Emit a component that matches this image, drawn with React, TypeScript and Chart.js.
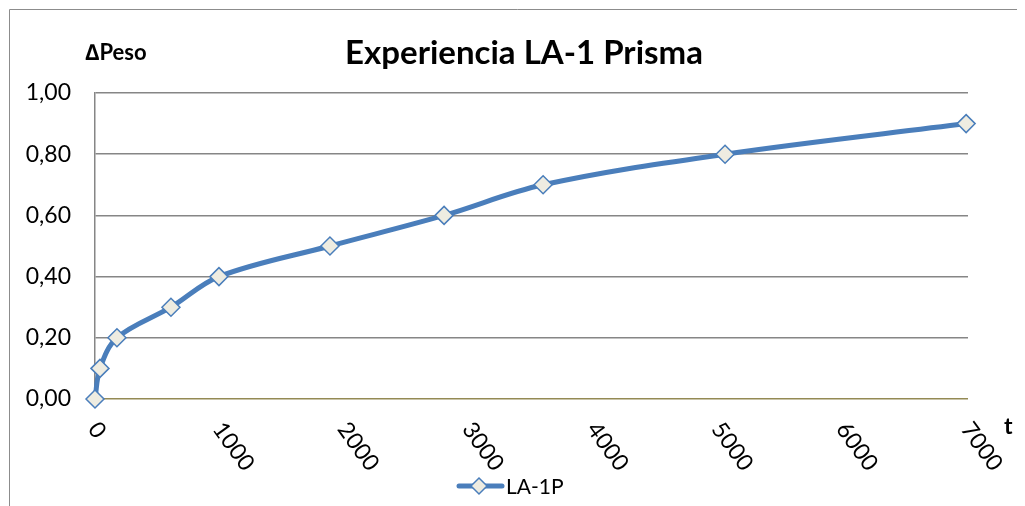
import React, { useEffect, useRef } from "react";
import { Chart, registerables } from "chart.js";

Chart.register(...registerables);

const TITLE = "Experiencia LA-1 Prisma";
const Y_TITLE = "\u2206Peso";
const X_TITLE = "t";
const SERIES_NAME = "LA-1P";
const T_VALUES = [0, 40, 176, 609, 994, 1884, 2799, 3593, 5052, 6985];
const PESO_VALUES = [0, 0.1, 0.2, 0.3, 0.4, 0.5, 0.6, 0.7, 0.8, 0.9];
const X_TICKS = [0, 1000, 2000, 3000, 4000, 5000, 6000, 7000];

const FONT = "Lato, 'Open Sans', sans-serif";
const LINE_COLOR = "#4A7EBB";
const MARKER_FILL = "#EEECE1";

export default function App() {
  const ref = useRef<HTMLCanvasElement | null>(null);

  useEffect(() => {
    if (!ref.current) return;
    const decor = {
      id: "decor",
      afterDraw(chart: any) {
        const ctx = chart.ctx;
        const xs = chart.scales.x;
        const area = chart.chartArea;
        ctx.save();
        // outer border
        ctx.strokeStyle = "#8c8c8c";
        ctx.lineWidth = 1;
        ctx.beginPath();
        ctx.moveTo(1.5, chart.height);
        ctx.lineTo(1.5, 1.5);
        ctx.lineTo(chart.width, 1.5);
        ctx.stroke();
        // title
        ctx.fillStyle = "#000";
        ctx.textAlign = "center";
        ctx.textBaseline = "middle";
        ctx.font = `bold 33px ${FONT}`;
        ctx.fillText(TITLE, 516, 45);
        // y title
        ctx.font = `bold 22px ${FONT}`;
        ctx.textAlign = "left";
        ctx.fillText(Y_TITLE, 77, 45);
        // x title
        ctx.font = `bold 23px ${FONT}`;
        ctx.fillText(X_TITLE, 996, 419);
        // rotated x tick labels
        ctx.font = `23px ${FONT}`;
        ctx.textAlign = "left";
        ctx.textBaseline = "middle";
        for (const v of X_TICKS) {
          const px = xs.getPixelForValue(v);
          ctx.save();
          ctx.translate(px - 2, area.bottom + 26);
          ctx.rotate((54 * Math.PI) / 180);
          ctx.fillText(String(v), 0, 0);
          ctx.restore();
        }
        // legend
        const ly = 478;
        ctx.strokeStyle = LINE_COLOR;
        ctx.lineWidth = 5;
        ctx.lineCap = "round";
        ctx.beginPath();
        ctx.moveTo(451, ly);
        ctx.lineTo(494, ly);
        ctx.stroke();
        ctx.fillStyle = MARKER_FILL;
        ctx.lineWidth = 1.5;
        ctx.beginPath();
        ctx.moveTo(471, ly - 8);
        ctx.lineTo(479, ly);
        ctx.lineTo(471, ly + 8);
        ctx.lineTo(463, ly);
        ctx.closePath();
        ctx.fill();
        ctx.stroke();
        ctx.fillStyle = "#000";
        ctx.font = `21px ${FONT}`;
        ctx.fillText(SERIES_NAME, 498, ly + 1);
        ctx.restore();
      },
    };

    const chart = new Chart(ref.current, {
      type: "line",
      data: {
        datasets: [
          {
            label: SERIES_NAME,
            data: T_VALUES.map((t, i) => ({ x: t, y: PESO_VALUES[i] })),
            borderColor: LINE_COLOR,
            borderWidth: 5,
            tension: 0.35,
            pointStyle: "rectRot",
            pointRadius: 9,
            pointBackgroundColor: MARKER_FILL,
            pointBorderColor: LINE_COLOR,
            pointBorderWidth: 1.5,
            clip: false,
          },
        ],
      },
      options: {
        animation: false,
        responsive: false,
        layout: { padding: { top: 85, left: 0, right: 57, bottom: 0 } },
        plugins: {
          legend: { display: false },
          title: { display: false },
          tooltip: { enabled: false },
        },
        scales: {
          x: {
            type: "linear",
            min: 0,
            max: 7000,
            afterFit: (s: any) => {
              s.height = 107;
            },
            ticks: { display: false, stepSize: 1000 },
            grid: { display: false, drawTicks: false },
            border: { display: false },
          },
          y: {
            min: 0,
            max: 1,
            afterFit: (s: any) => {
              s.width = 87;
            },
            ticks: {
              stepSize: 0.2,
              padding: 24,
              color: "#000",
              font: { family: FONT, size: 23 },
              callback: (v: any) => Number(v).toFixed(2).replace(".", ","),
            },
            grid: {
              drawTicks: false,
              color: (c: any) => (c.tick && c.tick.value === 0 ? "#948A54" : "#868686"),
              lineWidth: 1.5,
            },
            border: { display: true, color: "#868686", width: 1.5 },
          },
        },
      },
      plugins: [decor],
    } as any);
    return () => chart.destroy();
  }, []);

  return <canvas ref={ref} width={1017} height={498} style={{ display: "block" }} />;
}
